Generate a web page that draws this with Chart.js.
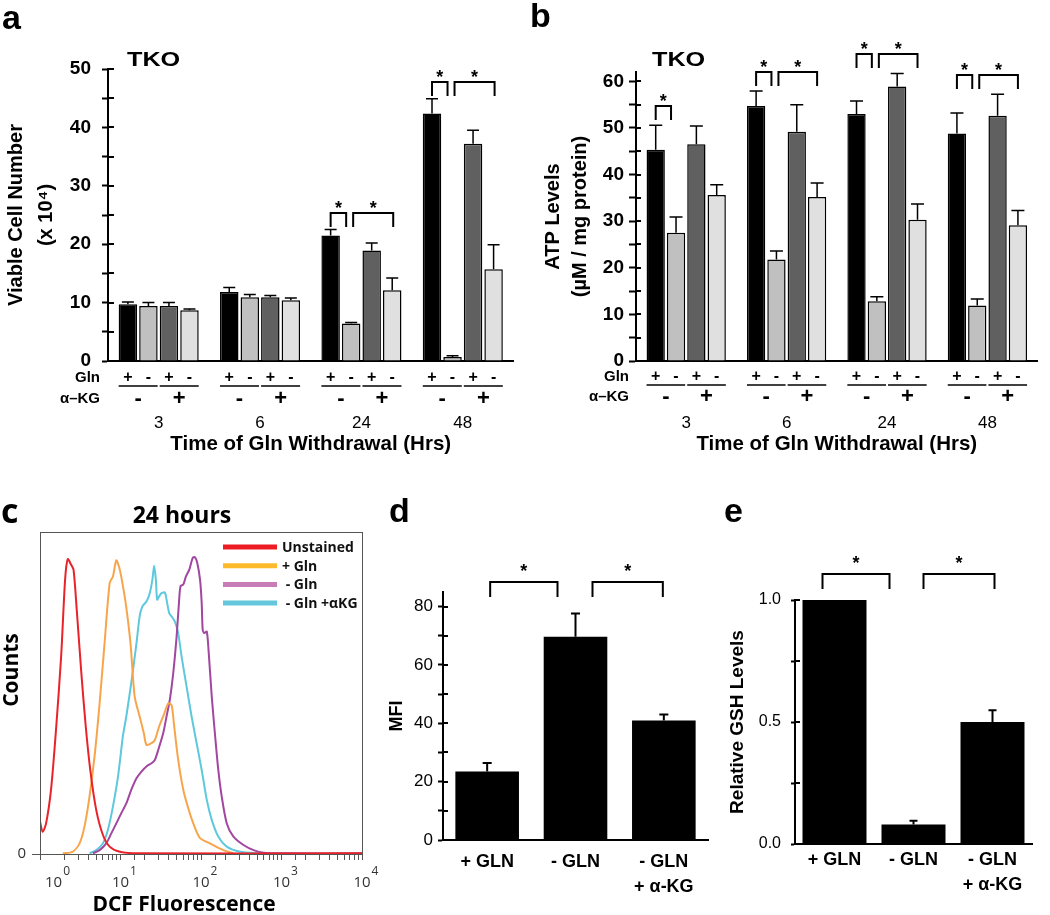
<!DOCTYPE html>
<html>
<head>
<meta charset="utf-8">
<script src="https://cdn.jsdelivr.net/npm/chart.js@4.4.1/dist/chart.umd.min.js"></script>
<style>
  html, body { margin: 0; padding: 0; background: #fff; }
  #fig { position: relative; width: 1050px; height: 915px; overflow: hidden; }
  #fig canvas { position: absolute; }
  .txt { position: absolute; white-space: nowrap; line-height: 1; color: #000; }
  .letter { font: bold 34px "Liberation Sans", Arial, sans-serif; }
  .letterC { font: bold 34px "Open Sans", sans-serif; }
  .tko { font: bold 21px "Liberation Sans", Arial, sans-serif; transform: scaleX(1.2); transform-origin: left center; }
  .os { font-family: "Open Sans", sans-serif; font-weight: bold; }
</style>
</head>
<body>
<div id="fig">
  <canvas id="panelA" width="525" height="470" style="left:0;top:0"></canvas>
  <canvas id="panelB" width="525" height="470" style="left:525px;top:0"></canvas>
  <canvas id="panelC" width="385" height="440" style="left:0;top:475px"></canvas>
  <canvas id="panelD" width="325" height="440" style="left:385px;top:475px"></canvas>
  <canvas id="panelE" width="340" height="440" style="left:710px;top:475px"></canvas>

  <div class="txt letter" style="left:2px;top:-2px">a</div>
  <div class="txt letter" style="left:530px;top:-4px">b</div>
  <div class="txt letterC" style="left:1px;top:487px">c</div>
  <div class="txt letter" style="left:389px;top:491px">d</div>
  <div class="txt letter" style="left:724px;top:491px">e</div>

  <div class="txt tko" style="left:127px;top:47px">TKO</div>
  <div class="txt tko" style="left:652px;top:47px">TKO</div>

  <div class="txt os" style="left:182px;top:503px;font-size:23px;transform:translateX(-50%)">24 hours</div>
  <div class="txt os" style="left:10px;top:670px;font-size:21px;transform:translate(-50%,-50%) rotate(-90deg)">Counts</div>
  <div class="txt os" style="left:184px;top:893px;font-size:21px;transform:translateX(-50%)">DCF Fluorescence</div>
</div>

<script>
  "use strict";

  const SANS = "'Liberation Sans', Arial, sans-serif";
  const OPEN = "'Open Sans', sans-serif";

  // ── a / b : shared categories ──────────────────────────────
  const HOURS = ["3", "6", "24", "48"];
  const SERIES_NAMES = ["+Gln", "-Gln", "+Gln +α-KG", "-Gln +α-KG"];
  const GLN_SIGNS = ["+", "-", "+", "-"];
  const AKG_SIGNS = ["-", "+"];
  const ROW_NAMES = ["Gln", "α–KG"];
  const BAR_COLORS = ["#000000", "#c0c0c0", "#606060", "#e0e0e0"];

  // ── a : viable cell number (x 10^4) ────────────────────────
  const CELLS_GLN = [9.7, 11.8, 21.5, 42.4];
  const CELLS_NOGLN = [9.4, 10.9, 6.4, 0.7];
  const CELLS_GLN_AKG = [9.4, 10.9, 18.9, 37.2];
  const CELLS_NOGLN_AKG = [8.7, 10.4, 12.1, 15.7];
  const CELLS_GLN_ERR = [0.4, 0.8, 1.0, 2.5];
  const CELLS_NOGLN_ERR = [0.6, 0.5, 0.2, 0.2];
  const CELLS_GLN_AKG_ERR = [0.6, 0.3, 1.3, 2.3];
  const CELLS_NOGLN_AKG_ERR = [0.2, 0.4, 2.1, 4.2];
  const CELLS_SIG = [[2, 0, 1], [2, 1, 3], [3, 0, 1], [3, 1, 3]];

  // ── b : ATP levels ─────────────────────────────────────────
  const ATP_GLN = [45.3, 54.7, 53.0, 48.8];
  const ATP_NOGLN = [27.5, 21.8, 12.8, 11.9];
  const ATP_GLN_AKG = [46.5, 49.2, 58.9, 52.6];
  const ATP_NOGLN_AKG = [35.6, 35.2, 30.3, 29.1];
  const ATP_GLN_ERR = [5.3, 3.2, 2.8, 4.4];
  const ATP_NOGLN_ERR = [3.4, 1.8, 1.0, 1.4];
  const ATP_GLN_AKG_ERR = [3.9, 5.8, 2.8, 4.6];
  const ATP_NOGLN_AKG_ERR = [2.2, 3.0, 3.4, 3.2];
  const ATP_SIG = [[0, 0, 1], [1, 0, 1], [1, 1, 3], [2, 0, 1], [2, 1, 3], [3, 0, 1], [3, 1, 3]];

  // ── c : DCF histograms (fluorescence, counts in % of max) ──
  const DECADES = [1, 10, 100, 1000, 10000];
  const DECADE_EXP = ["0", "1", "2", "3", "4"];
  const HIST_NAMES = ["Unstained", "+ Gln", " - Gln", " - Gln +αKG"];
  const UNSTAINED_X = [1.0, 1.08, 1.19, 1.37, 1.58, 1.83, 2.05, 2.21, 2.44, 2.61, 2.86, 3.24, 3.67, 4.21, 4.99, 6.05, 7.33, 9.8, 17, 10000];
  const UNSTAINED_Y = [10.1, 6.9, 9.5, 19.9, 38.5, 61.3, 85.2, 91.6, 89.8, 88.3, 75.9, 57.2, 40.6, 26.1, 13.7, 5.9, 2.3, 0.7, 0.2, 0.2];
  const GLN_X = [1.92, 2.55, 3.10, 3.57, 4.12, 4.76, 5.50, 6.34, 7.33, 8.05, 8.87, 9.57, 10.2, 11.6, 13.3, 15.0, 17.3, 19.5, 21.0, 24.3, 26.7, 30.2, 34.5, 39.2, 43.1, 46.0, 52.1, 60.3, 69.5, 80.2, 97.3, 129, 190, 253];
  const GLN_Y = [0.2, 0.7, 3.3, 8.5, 17.8, 30.3, 46.8, 65.5, 84.1, 86.2, 91.2, 89.3, 86.2, 77.9, 65.5, 48.9, 42.7, 37.5, 33.9, 34.4, 35.4, 39.6, 43.2, 46.8, 46.3, 40.6, 29.2, 19.9, 14.2, 9.5, 4.9, 3.3, 1.2, 0.2];
  const NOGLN_X = [4.54, 5.50, 6.65, 7.69, 8.87, 10.2, 11.8, 13.6, 15.8, 18.2, 21.0, 24.3, 26.7, 29.4, 33.9, 37.3, 41.0, 45.2, 49.8, 53.2, 55.7, 60.3, 65.0, 71.6, 78.7, 84.1, 89.9, 97.3, 102, 105, 110, 118, 124, 136, 150, 164, 181, 209, 253, 337, 450, 600, 1064, 10000];
  const NOGLN_Y = [0.2, 1.2, 3.3, 6.4, 9.5, 12.6, 15.7, 19.9, 23.5, 25.6, 27.2, 28.2, 29.2, 32.3, 37.5, 42.7, 47.9, 56.2, 67.6, 78.0, 83.2, 83.7, 86.2, 88.3, 91.9, 92.2, 90.4, 85.2, 78.0, 69.6, 68.6, 69.1, 63.4, 48.9, 36.5, 26.1, 17.8, 9.5, 5.4, 2.8, 1.2, 0.4, 0.2, 0.2];
  const NOGLN_AKG_X = [4.12, 5.00, 6.05, 6.98, 8.05, 9.31, 10.7, 11.8, 13.6, 15.8, 17.3, 18.7, 21.0, 23.1, 24.9, 26.2, 27.5, 28.5, 30.2, 32.3, 35.6, 38.0, 40.3, 43.1, 47.4, 52.1, 57.4, 66.2, 76.4, 88.3, 102, 118, 136, 164, 209, 306, 545];
  const NOGLN_AKG_Y = [0.2, 1.2, 3.3, 7.5, 14.7, 24.0, 36.5, 42.7, 53.1, 65.5, 73.8, 76.9, 78.4, 81.0, 85.2, 89.5, 85.2, 79.0, 80.0, 81.0, 81.2, 77.9, 74.8, 73.8, 72.2, 68.6, 61.3, 52.0, 42.7, 34.4, 26.1, 16.8, 10.6, 5.4, 2.3, 0.7, 0.2];

  // ── d / e : three conditions ───────────────────────────────
  const CONDITIONS = [["+ GLN"], ["- GLN"], ["- GLN", "+ α-KG"]];
  const MFI = [23.5, 69.7, 41.0];
  const MFI_ERR = [2.9, 7.9, 2.0];
  const GSH = [1.0, 0.08, 0.50];
  const GSH_ERR = [0, 0.015, 0.048];
  const PAIR_SIG = [[0, 0, 1], [0, 1, 2]];

  // ────────────────────────────────────────────────────────────
  // plugins
  // ────────────────────────────────────────────────────────────
  const errorBars = {
    id: "errorBars",
    afterDatasetsDraw(chart, args, o) {
      const ctx = chart.ctx, ys = chart.scales.y;
      ctx.save();
      ctx.strokeStyle = "#000";
      ctx.lineWidth = o.width;
      chart.data.datasets.forEach(function (ds, i) {
        if (!ds.errors) return;
        chart.getDatasetMeta(i).data.forEach(function (bar, j) {
          const err = ds.errors[j];
          if (!err) return;
          const top = ys.getPixelForValue(ds.data[j] + err);
          ctx.beginPath();
          ctx.moveTo(bar.x, bar.y);
          ctx.lineTo(bar.x, top);
          ctx.moveTo(bar.x - o.cap / 2, top);
          ctx.lineTo(bar.x + o.cap / 2, top);
          ctx.stroke();
        });
      });
      ctx.restore();
    }
  };

  // y ticks that also poke into the plot
  const innerTicks = {
    id: "innerTicks",
    afterDraw(chart, args, o) {
      const ys = chart.scales.y, x = chart.chartArea.left, ctx = chart.ctx;
      ctx.save();
      ctx.strokeStyle = "#000";
      ctx.lineWidth = o.width;
      ys.ticks.forEach(function (t) {
        const y = Math.round(ys.getPixelForValue(t.value));
        ctx.beginPath();
        ctx.moveTo(x, y);
        ctx.lineTo(x + o.len, y);
        ctx.stroke();
      });
      ctx.restore();
    }
  };

  function bracketPlugin(pairs, st) {
    return {
      id: "sigBrackets",
      afterDatasetsDraw(chart) {
        const ctx = chart.ctx, ys = chart.scales.y, sets = chart.data.datasets;
        const grouped = sets.length > 1;
        function barsOf(g) {
          if (grouped) {
            return sets.map(function (ds, k) {
              return { el: chart.getDatasetMeta(k).data[g], top: ds.data[g] + (ds.errors ? ds.errors[g] : 0) };
            });
          }
          return sets[0].data.map(function (v, k) {
            return { el: chart.getDatasetMeta(0).data[k], top: v + (sets[0].errors ? sets[0].errors[k] : 0) };
          });
        }
        ctx.save();
        ctx.strokeStyle = "#000";
        ctx.fillStyle = "#000";
        ctx.lineWidth = st.width;
        ctx.font = st.starFont;
        ctx.textAlign = "center";
        ctx.textBaseline = "alphabetic";
        const m = ctx.measureText("*");
        const shift = (m.actualBoundingBoxAscent - m.actualBoundingBoxDescent) / 2;
        pairs.forEach(function (p) {
          const bars = barsOf(p[0]), a = p[1], b = p[2];
          const yTop = Math.round(Math.min.apply(null, bars.map(function (d) { return ys.getPixelForValue(d.top); })) - st.gap);
          const x1 = bars[a].el.x + (a === 0 ? st.edge[0] : st.mid[1]);
          const x2 = bars[b].el.x + (b === bars.length - 1 ? st.edge[1] : -st.mid[0]);
          ctx.beginPath();
          ctx.moveTo(x1, yTop + st.leg);
          ctx.lineTo(x1, yTop);
          ctx.lineTo(x2, yTop);
          ctx.lineTo(x2, yTop + st.leg);
          ctx.stroke();
          ctx.fillText("*", (x1 + x2) / 2, yTop - st.starGap + shift);
        });
        ctx.restore();
      }
    };
  }

  // Gln / α-KG +/- rows under panels a and b
  function treatmentPlugin(st) {
    return {
      id: "treatmentRows",
      afterDraw(chart) {
        const ctx = chart.ctx, base = chart.chartArea.bottom, left = chart.chartArea.left;
        const metas = chart.data.datasets.map(function (d, i) { return chart.getDatasetMeta(i); });
        ctx.save();
        ctx.fillStyle = "#000";
        ctx.strokeStyle = "#000";
        ctx.lineWidth = 1.5;
        ctx.textAlign = "center";
        ctx.textBaseline = "middle";
        chart.data.labels.forEach(function (lab, g) {
          const bars = metas.map(function (m) { return m.data[g]; });
          ctx.font = st.signFont;
          bars.forEach(function (b, k) { ctx.fillText(GLN_SIGNS[k], b.x, base + st.glnY); });
          AKG_SIGNS.forEach(function (s, p) {
            const b0 = bars[2 * p], b1 = bars[2 * p + 1];
            ctx.beginPath();
            ctx.moveTo(b0.x - b0.width / 2, base + st.lineY);
            ctx.lineTo(b1.x + b1.width / 2, base + st.lineY);
            ctx.stroke();
            ctx.font = st.bigFont;
            ctx.fillText(s, (b0.x + b1.x) / 2, base + st.akgY);
          });
        });
        ctx.font = st.nameFont;
        ctx.textAlign = "right";
        ctx.fillText(ROW_NAMES[0], left + st.nameX, base + st.glnY);
        ctx.fillText(ROW_NAMES[1], left + st.nameX, base + st.akgY);
        ctx.restore();
      }
    };
  }

  const plotBox = {
    id: "plotBox",
    afterDraw(chart) {
      const a = chart.chartArea, ctx = chart.ctx;
      ctx.save();
      ctx.strokeStyle = "#555";
      ctx.lineWidth = 1;
      ctx.strokeRect(a.left + 0.5, a.top + 0.5, a.right - a.left, a.bottom - a.top);
      ctx.restore();
    }
  };

  // "10" with a raised exponent under each decade tick
  const decadeLabels = {
    id: "decadeLabels",
    afterDraw(chart, args, o) {
      const xs = chart.scales.x, a = chart.chartArea, ctx = chart.ctx;
      ctx.save();
      ctx.fillStyle = "#333";
      ctx.textBaseline = "alphabetic";
      DECADES.forEach(function (v, i) {
        ctx.font = "15px " + OPEN;
        const w = ctx.measureText("10").width;
        const x = Math.max(xs.getPixelForValue(v), a.left + o.minLeft + w / 2);
        ctx.textAlign = "center";
        ctx.fillText("10", x, a.bottom + o.base);
        ctx.font = "12px " + OPEN;
        ctx.textAlign = "left";
        ctx.fillText(DECADE_EXP[i], x + w / 2 + 1, a.bottom + o.base - o.raise);
      });
      ctx.restore();
    }
  };

  const lineLegend = {
    id: "lineLegend",
    afterDraw(chart, args, o) {
      const ctx = chart.ctx, a = chart.chartArea;
      ctx.save();
      ctx.font = "bold 14px " + OPEN;
      ctx.textBaseline = "middle";
      chart.data.datasets.forEach(function (ds, i) {
        const y = a.top + o.top + i * o.step;
        const x = a.left + o.left;
        ctx.strokeStyle = ds.legendColor;
        ctx.lineWidth = 5;
        ctx.beginPath();
        ctx.moveTo(x, y);
        ctx.lineTo(x + o.len, y);
        ctx.stroke();
        ctx.fillStyle = "#111";
        ctx.fillText(ds.label, x + o.len + 5, y + 1);
      });
      ctx.restore();
    }
  };

  // ────────────────────────────────────────────────────────────
  // helpers
  // ────────────────────────────────────────────────────────────
  function barSets(values, errors) {
    return values.map(function (v, i) {
      return {
        label: SERIES_NAMES[i],
        data: v,
        errors: errors[i],
        backgroundColor: BAR_COLORS[i],
        borderColor: "#000",
        borderWidth: 1.5,
        categoryPercentage: 0.81,
        barPercentage: 0.9
      };
    });
  }

  function pts(xs, ys) {
    return xs.map(function (x, i) { return { x: x, y: ys[i] }; });
  }

  const base = {
    responsive: false,
    animation: false,
    devicePixelRatio: 1,
    events: []
  };

  function opts(extra) {
    return Object.assign({}, base, extra);
  }

  function groupedY(max, width, tickLen, pad, title, titleLH, titlePad) {
    return {
      min: 0, max: max,
      ticks: {
        stepSize: 5, autoSkip: false, includeBounds: false, color: "#000", padding: pad,
        font: { family: SANS, size: 19, weight: "bold" },
        callback: function (v) { return v % 10 === 0 ? v : ""; }
      },
      grid: { drawOnChartArea: false, tickLength: tickLen, tickWidth: 2, tickColor: "#000" },
      border: { color: "#000", width: 2 },
      title: {
        display: true, text: title, color: "#000",
        font: { family: SANS, size: 20, weight: "bold", lineHeight: titleLH },
        padding: { top: titlePad, bottom: 0 }
      },
      afterFit(s) { s.width = width; }
    };
  }

  function groupedX() {
    return {
      grid: { display: false, drawTicks: false },
      border: { color: "#000", width: 2 },
      ticks: { color: "#000", font: { family: SANS, size: 17 }, padding: 52 },
      title: {
        display: true, text: "Time of Gln Withdrawal (Hrs)", color: "#000",
        font: { family: SANS, size: 20.5, weight: "bold" },
        padding: { top: 0, bottom: 13 }
      },
      afterFit(s) { s.height = 109; }
    };
  }

  const rowStyle = {
    signFont: "bold 16px " + SANS,
    bigFont: "bold 22px " + SANS,
    nameFont: "bold 15px " + SANS,
    glnY: 17, lineY: 25, akgY: 38, nameX: -8
  };

  // ────────────────────────────────────────────────────────────
  // a
  // ────────────────────────────────────────────────────────────
  new Chart(document.getElementById("panelA"), {
    type: "bar",
    data: {
      labels: HOURS,
      datasets: barSets(
        [CELLS_GLN, CELLS_NOGLN, CELLS_GLN_AKG, CELLS_NOGLN_AKG],
        [CELLS_GLN_ERR, CELLS_NOGLN_ERR, CELLS_GLN_AKG_ERR, CELLS_NOGLN_AKG_ERR]
      )
    },
    options: opts({
      layout: { padding: { top: 69, right: 6, left: 0, bottom: 0 } },
      plugins: {
        legend: { display: false },
        tooltip: { enabled: false },
        errorBars: { cap: 12, width: 1.5 },
        innerTicks: { len: 6, width: 2 }
      },
      scales: {
        x: groupedX(),
        y: groupedY(50, 108, 6, 11, ["Viable Cell Number", "(x 10⁴)"], 1.5, 1)
      }
    }),
    plugins: [errorBars, innerTicks, treatmentPlugin(rowStyle),
      bracketPlugin(CELLS_SIG, { width: 2, gap: 17, leg: 14, starGap: 9, starFont: "bold 18px " + SANS, edge: [0, 1], mid: [5, 2] })]
  });

  // ────────────────────────────────────────────────────────────
  // b
  // ────────────────────────────────────────────────────────────
  new Chart(document.getElementById("panelB"), {
    type: "bar",
    data: {
      labels: HOURS,
      datasets: barSets(
        [ATP_GLN, ATP_NOGLN, ATP_GLN_AKG, ATP_NOGLN_AKG],
        [ATP_GLN_ERR, ATP_NOGLN_ERR, ATP_GLN_AKG_ERR, ATP_NOGLN_AKG_ERR]
      )
    },
    options: opts({
      layout: { padding: { top: 72, right: 9, left: 0, bottom: 0 } },
      plugins: {
        legend: { display: false },
        tooltip: { enabled: false },
        errorBars: { cap: 13, width: 1.5 },
        innerTicks: { len: 5, width: 2 }
      },
      scales: {
        x: groupedX(),
        y: groupedY(62, 111, 7, 5, ["ATP Levels", "(µM / mg protein)"], 1.35, 14.5)
      }
    }),
    plugins: [errorBars, innerTicks,
      treatmentPlugin(Object.assign({}, rowStyle, { glnY: 16, lineY: 24, akgY: 36, nameX: -7 })),
      bracketPlugin(ATP_SIG, { width: 2, gap: 19, leg: 14, starGap: 9, starFont: "bold 18px " + SANS, edge: [0, 0], mid: [5, 2] })]
  });

  // ────────────────────────────────────────────────────────────
  // c
  // ────────────────────────────────────────────────────────────
  new Chart(document.getElementById("panelC"), {
    type: "line",
    data: {
      datasets: [
        { label: HIST_NAMES[0], data: pts(UNSTAINED_X, UNSTAINED_Y), borderColor: "#e8232a", legendColor: "#ed1c24" },
        { label: HIST_NAMES[1], data: pts(GLN_X, GLN_Y), borderColor: "#f7a54c", legendColor: "#fdba2c" },
        { label: HIST_NAMES[2], data: pts(NOGLN_X, NOGLN_Y), borderColor: "#a2479f", legendColor: "#c97db6" },
        { label: HIST_NAMES[3], data: pts(NOGLN_AKG_X, NOGLN_AKG_Y), borderColor: "#5ec8dc", legendColor: "#64c7dc" }
      ]
    },
    options: opts({
      layout: { padding: { top: 57, right: 23, left: 0, bottom: 0 } },
      elements: {
        point: { radius: 0 },
        line: { borderWidth: 2, tension: 0.25, fill: false }
      },
      plugins: {
        legend: { display: false },
        tooltip: { enabled: false },
        lineLegend: { left: 183, top: 15, step: 18.7, len: 54 },
        decadeLabels: { base: 33, raise: 12, minLeft: 5 }
      },
      scales: {
        x: {
          type: "logarithmic", min: 1, max: 10000,
          ticks: { autoSkip: false, maxRotation: 0, callback: function () { return ""; } },
          grid: { drawOnChartArea: false, tickLength: 6, tickColor: "#555", tickWidth: 1 },
          border: { color: "#666", width: 1 },
          afterFit(s) { s.height = 61; }
        },
        y: {
          min: 0, max: 100,
          afterBuildTicks(s) { s.ticks = s.ticks.filter(function (t) { return t.value === 0; }); },
          ticks: { color: "#333", padding: 6, font: { family: OPEN, size: 15 } },
          grid: { drawOnChartArea: false, tickLength: 8, tickColor: "#555" },
          border: { color: "#666", width: 1 },
          afterFit(s) { s.width = 40; }
        }
      }
    }),
    plugins: [plotBox, lineLegend, decadeLabels]
  });

  // ────────────────────────────────────────────────────────────
  // d / e
  // ────────────────────────────────────────────────────────────
  function condX(height, pad) {
    return {
      grid: { display: false, drawTicks: false },
      border: { color: "#000", width: 2 },
      ticks: { color: "#000", padding: pad, font: { family: SANS, size: 18, weight: "bold", lineHeight: 1.4 } },
      afterFit(s) { s.height = height; }
    };
  }

  new Chart(document.getElementById("panelD"), {
    type: "bar",
    data: {
      labels: CONDITIONS,
      datasets: [{ label: "MFI", data: MFI, errors: MFI_ERR, backgroundColor: "#000", borderWidth: 0, categoryPercentage: 1, barPercentage: 0.72 }]
    },
    options: opts({
      layout: { padding: { top: 117, right: 2, left: 0, bottom: 0 } },
      plugins: {
        legend: { display: false },
        tooltip: { enabled: false },
        errorBars: { cap: 9, width: 2 },
        innerTicks: { len: 5, width: 2 }
      },
      scales: {
        x: condX(75, 9),
        y: {
          min: 0, max: 85,
          ticks: {
            stepSize: 10, autoSkip: false, includeBounds: false, color: "#000", padding: 5,
            font: { family: SANS, size: 17 },
            callback: function (v) { return v % 20 === 0 ? v : ""; }
          },
          grid: { drawOnChartArea: false, tickLength: 5, tickWidth: 2, tickColor: "#000" },
          border: { color: "#000", width: 2 },
          title: { display: true, text: "MFI", color: "#000", font: { family: SANS, size: 18, weight: "bold" }, padding: { top: 1, bottom: 0 } },
          afterFit(s) { s.width = 58; }
        }
      }
    }),
    plugins: [errorBars, innerTicks,
      bracketPlugin(PAIR_SIG, { width: 2, gap: 32, leg: 15, starGap: 15, starFont: "bold 18px " + SANS, edge: [3, -1], mid: [18, 17] })]
  });

  new Chart(document.getElementById("panelE"), {
    type: "bar",
    data: {
      labels: CONDITIONS,
      datasets: [{ label: "Relative GSH Levels", data: GSH, errors: GSH_ERR, backgroundColor: "#000", borderWidth: 0, categoryPercentage: 1, barPercentage: 0.81 }]
    },
    options: opts({
      layout: { padding: { top: 125, right: 18, left: 0, bottom: 0 } },
      plugins: {
        legend: { display: false },
        tooltip: { enabled: false },
        errorBars: { cap: 8, width: 2 },
        innerTicks: { len: 5, width: 2 }
      },
      scales: {
        x: condX(71, 3),
        y: {
          min: 0, max: 1,
          ticks: {
            stepSize: 0.25, autoSkip: false, color: "#000", padding: 10,
            font: { family: SANS, size: 16 },
            callback: function (v) { return (v * 2) % 1 === 0 ? v.toFixed(1) : ""; }
          },
          grid: { drawOnChartArea: false, tickLength: 4, tickWidth: 2, tickColor: "#000" },
          border: { color: "#000", width: 2 },
          title: { display: true, text: "Relative GSH Levels", color: "#000", font: { family: SANS, size: 19, weight: "bold" }, padding: { top: 16, bottom: 0 } },
          afterFit(s) { s.width = 85; }
        }
      }
    }),
    plugins: [errorBars, innerTicks,
      bracketPlugin(PAIR_SIG, { width: 2, gap: 26, leg: 15, starGap: 15, starFont: "bold 18px " + SANS, edge: [-12, 2], mid: [24, 10] })]
  });
</script>
</body>
</html>
